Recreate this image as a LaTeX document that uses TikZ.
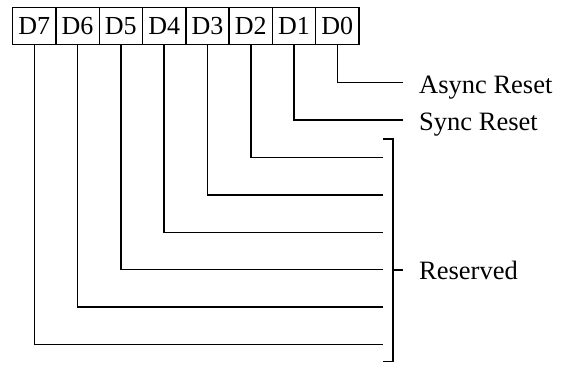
\documentclass[tikz,border=0pt]{standalone}
\usepackage{fontspec}
\setmainfont{Liberation Serif}
\tikzset{
    bit-box/.style = {draw, line width=1.4pt, rectangle, minimum width=43.3pt, minimum height=37pt, inner sep=0pt, font=\fontsize{26}{28}\selectfont},
    bit-label/.style = {inner sep=0pt, anchor=base west, font=\fontsize{26.5}{28}\selectfont},
    bit-line/.style = {line width=1.5pt},
}

\begin{document}
\begin{tikzpicture}[x=1pt, y=-1pt]
\useasboundingbox (0,0) rectangle (564,364);
% the register, D7 on the left
\foreach \b in {0,...,7}
  \node[bit-box] (D\b) at ({337.35-43.3*\b}, 25.8) {D\b};
% one line per bit, down and then right
\foreach \b/\xe in {0/403, 1/403, 2/382.7, 3/382.7, 4/382.7, 5/382.7, 6/382.7, 7/382.7} {
  \pgfmathsetmacro\ye{82.7+37.4*\b}
  \coordinate (end\b) at (\xe, \ye);
  \draw[bit-line] (D\b.south) |- (end\b);
}
% bracket round D2..D7
\coordinate (br-top) at (393, 139);
\coordinate (br-bot) at (393, 361.7);
\coordinate (br-mid) at (393, 270);
\draw[bit-line] ([xshift=-10pt]br-top) -- (br-top) -- (br-bot) -- ([xshift=-10pt]br-bot);
\draw[bit-line] (br-mid) -- ([xshift=10pt]br-mid);
\node[bit-label] (async) at (419, 93) {Async Reset};
\node[bit-label] (sync) at (419, 130.7) {Sync Reset};
\node[bit-label] (reserved) at (419, 279) {Reserved};
\end{tikzpicture}
\end{document}
